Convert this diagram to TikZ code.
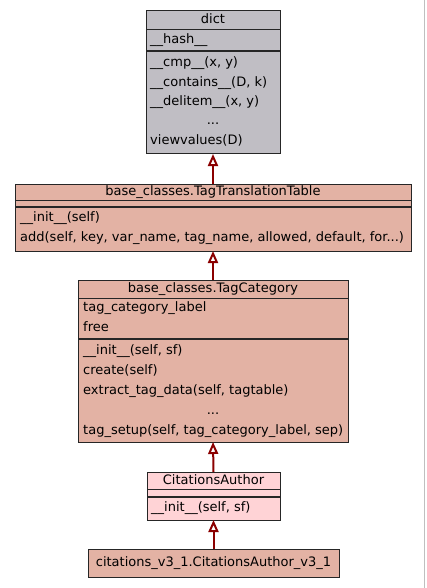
\documentclass[tikz,border=0pt]{standalone}
\usepackage{fontspec}
\setmainfont{DejaVu Sans}
\usetikzlibrary{arrows.meta, positioning}
\definecolor{cGrey}{RGB}{192,190,196}
\definecolor{cSalmon}{RGB}{227,178,164}
\definecolor{cPink}{RGB}{255,211,214}
\definecolor{cArrow}{RGB}{139,0,0}
\tikzset{
	umlbox/.style={rectangle, draw=black!85, line width=1pt, anchor=north west, inner sep=0pt, outer sep=0pt},
	sepline/.style={draw=black!85, line width=1pt},
	% text rows of a class box
	ctitle/.style={font=\fontsize{13}{16}\selectfont, anchor=center, inner sep=0pt, text height=10pt, text depth=3pt},
	member/.style={font=\fontsize{13}{16}\selectfont, anchor=west, inner sep=0pt, text height=10pt, text depth=3pt},
	inherit/.style={-{Triangle[open, length=12pt, width=10pt]}, line width=2pt, draw=cArrow},
}
\begin{document}
\begin{tikzpicture}[x=1pt, y=-1pt]
	\useasboundingbox (0,0) rectangle (427,588);
	\draw[black!25, line width=1pt] (424,0) -- (424,588);

	% dict
	\node[umlbox, fill=cGrey, minimum width=134pt, minimum height=143pt] (dict) at (146,11) {};
	\node[ctitle] (dictT) at (213,20.5) {dict};
	\draw[sepline] (146,30) -- (280,30);
	\draw[sepline, line width=1.5pt] (146,51) -- (280,51);
	\node[member] (dictA) at (150,40) {\_\_hash\_\_};
	\foreach \yy/\txt [count=\i] in {63/{\_\_cmp\_\_(x, y)}, 83/{\_\_contains\_\_(D, k)}, 102/{\_\_delitem\_\_(x, y)}, 141/{viewvalues(D)}} {
		\node[member] (dictM\i) at (150,\yy) {\txt};
	}
	\node[ctitle] (dictD) at (213,121) {...};

	% base_classes.TagTranslationTable
	\node[umlbox, fill=cSalmon, minimum width=396pt, minimum height=67pt] (ttt) at (15,184) {};
	\node[ctitle] (tttT) at (213,192) {base\_classes.TagTranslationTable};
	\draw[sepline] (15,200) -- (411,200);
	\draw[sepline, line width=1.5pt] (15,207) -- (411,207);
	\node[member] (tttM1) at (20,218) {\_\_init\_\_(self)};
	\node[member] (tttM2) at (20,238) {add(self, key, var\_name, tag\_name, allowed, default, for...)};

	% base_classes.TagCategory
	\node[umlbox, fill=cSalmon, minimum width=270pt, minimum height=162pt] (tcat) at (78,280) {};
	\node[ctitle] (tcatT) at (213,289) {base\_classes.TagCategory};
	\draw[sepline] (78,298) -- (348,298);
	\draw[sepline, line width=1.5pt] (78,339) -- (348,339);
	\node[member] (tcatA1) at (83,308) {tag\_category\_label};
	\node[member] (tcatA2) at (83,328) {free};
	\foreach \yy/\txt [count=\i] in {351/{\_\_init\_\_(self, sf)}, 371/{create(self)}, 391/{extract\_tag\_data(self, tagtable)}, 431/{tag\_setup(self, tag\_category\_label, sep)}} {
		\node[member] (tcatM\i) at (83,\yy) {\txt};
	}
	\node[ctitle] (tcatD) at (213,411) {...};

	% CitationsAuthor
	\node[umlbox, fill=cPink, minimum width=133pt, minimum height=48pt] (cauth) at (147,472) {};
	\node[ctitle] (cauthT) at (213.5,480.5) {CitationsAuthor};
	\draw[sepline] (147,489) -- (280,489);
	\draw[sepline, line width=1.5pt] (147,497) -- (280,497);
	\node[member] (cauthM1) at (151,508) {\_\_init\_\_(self, sf)};

	% citations_v3_1.CitationsAuthor_v3_1
	\node[umlbox, fill=cSalmon, minimum width=251pt, minimum height=28pt] (cv31) at (88,549) {};
	\node[ctitle] (cv31T) at (213.5,563) {citations\_v3\_1.CitationsAuthor\_v3\_1};

	% inheritance
	\draw[inherit] (ttt.north) -- (dict.south);
	\draw[inherit] (tcat.north) -- (ttt.south);
	\draw[inherit] (cauth.north) -- (tcat.south);
	\draw[inherit] (cv31.north) -- (cauth.south);
\end{tikzpicture}
\end{document}
